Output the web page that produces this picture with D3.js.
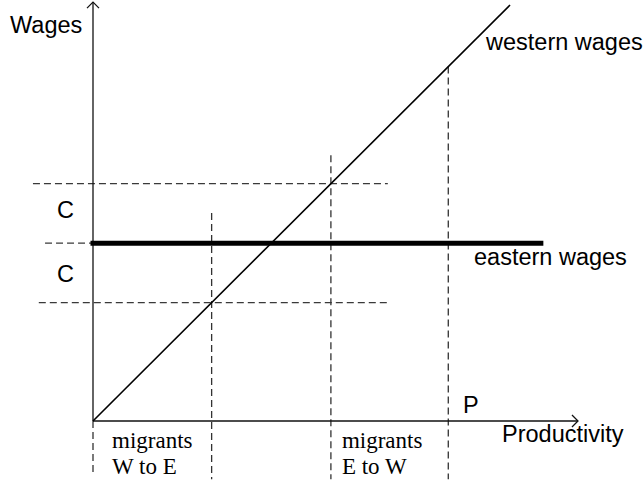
<!DOCTYPE html>
<html><head><meta charset="utf-8">
<script src="https://cdn.jsdelivr.net/npm/d3@7"></script>
<style>body{margin:0;background:#fff}svg{display:block}</style>
</head><body>
<svg id="c" width="644" height="484"></svg>
<script>
// Conceptual model values (productivity / wage units)
const easternWage = 42.75;
const migrationCost = 14.3;            // "C"
const productivityP = 85.2;            // "P"
const diagonalProductivity = [0, 100]; // western wages = productivity
const easternRange = [0, 107.4];
const xAxisMax = 116.3, yAxisMax = 100.7;
const hDashed = [
  {y: easternWage + migrationCost, x0: -14.4, x1: 70.7},
  {y: easternWage, x0: -11.5, x1: 0},
  {y: easternWage - migrationCost, x0: -13.0, x1: 71.2}
];
const vDashed = [
  {x: 0, y0: 0, y1: -13},
  {x: easternWage - migrationCost, y0: 50, y1: -14},
  {x: easternWage + migrationCost, y0: 63.9, y1: -14},
  {x: productivityP, y0: productivityP, y1: -14}
];
const labels = {wages: "Wages", prod: "Productivity", west: "western wages", east: "eastern wages", c: "C", p: "P"};
const migrantLabels = [
  {lines: ["migrants", "W to E"]},
  {lines: ["migrants", "E to W"]}
];

const svg = d3.select("#c");
const x = d3.scaleLinear().domain([0, 100]).range([93, 510]);
const y = d3.scaleLinear().domain([0, 100]).range([421, 5]);

// dashed guides
svg.selectAll("line.h").data(hDashed).join("line")
  .attr("x1", d => x(d.x0)).attr("x2", d => x(d.x1))
  .attr("y1", d => y(d.y)).attr("y2", d => y(d.y))
  .attr("stroke", "#3a3a3a").attr("stroke-width", 1.3).attr("stroke-dasharray", "7,4");
svg.selectAll("line.v").data(vDashed).join("line")
  .attr("x1", d => x(d.x)).attr("x2", d => x(d.x))
  .attr("y1", d => y(d.y0)).attr("y2", d => y(d.y1))
  .attr("stroke", "#333").attr("stroke-width", 1.3).attr("stroke-dasharray", "7,4");

// axes
svg.append("line").attr("x1", x(0)).attr("x2", x(xAxisMax)).attr("y1", y(0)).attr("y2", y(0))
  .attr("stroke", "#111").attr("stroke-width", 1.3);
svg.append("line").attr("x1", x(0)).attr("x2", x(0)).attr("y1", y(0)).attr("y2", y(yAxisMax))
  .attr("stroke", "#111").attr("stroke-width", 1.3);
const ax = x(xAxisMax), ay = y(0);
svg.append("path").attr("d", `M${ax-6},${ay-6}L${ax},${ay}L${ax-6},${ay+6}`)
  .attr("fill", "none").attr("stroke", "#111").attr("stroke-width", 1.3);
const tx = x(0), ty = y(yAxisMax);
svg.append("path").attr("d", `M${tx-6},${ty+6}L${tx},${ty}L${tx+6},${ty+6}`)
  .attr("fill", "none").attr("stroke", "#111").attr("stroke-width", 1.3);

// western wages diagonal
svg.append("line")
  .attr("x1", x(diagonalProductivity[0])).attr("y1", y(diagonalProductivity[0]))
  .attr("x2", x(diagonalProductivity[1])).attr("y2", y(diagonalProductivity[1]))
  .attr("stroke", "#000").attr("stroke-width", 1.6);

// eastern wages
svg.append("line")
  .attr("x1", x(easternRange[0])).attr("x2", x(easternRange[1]))
  .attr("y1", y(easternWage)).attr("y2", y(easternWage))
  .attr("stroke", "#000").attr("stroke-width", 5).attr("stroke-linecap", "square");

const sans = "Arial, 'Liberation Sans', sans-serif";
const serif = "'Times New Roman', 'Liberation Serif', serif";
function txt(s, px, py, font, size) {
  return svg.append("text").attr("x", px).attr("y", py).text(s)
    .attr("font-family", font || sans).attr("font-size", size || 23.5).attr("fill", "#000");
}
txt(labels.wages, 10, 33);
txt(labels.west, 486, 50);
txt(labels.east, 474, 265);
txt(labels.prod, 502, 442);
txt(labels.p, 463, 413);
txt(labels.c, 57, 218);
txt(labels.c, 57, 282);
migrantLabels.forEach((m, k) => {
  const left = k === 0 ? x(0) + 19 : x(easternWage + migrationCost) + 11;
  m.lines.forEach((l, i) => txt(l, left, 448 + i * 26, serif, 23));
});
</script>
</body></html>
